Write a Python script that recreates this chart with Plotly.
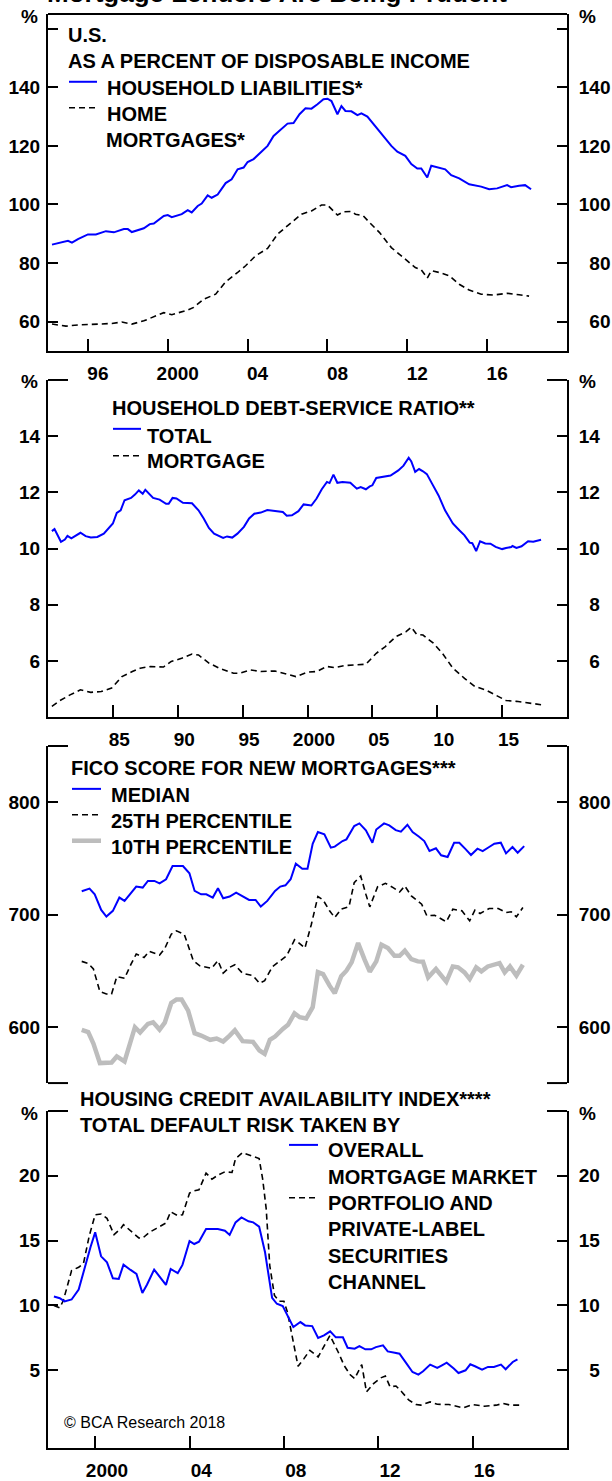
import plotly.graph_objects as go

W, H = 612, 1481

# ---- panel 1: household liabilities / home mortgages, % of disposable income
liab_x = [1994.2, 1994.5, 1995.0, 1995.2, 1995.5, 1996.0, 1996.4, 1996.9, 1997.3, 1997.8,
          1998.0, 1998.2, 1998.8, 1999.1, 1999.3, 1999.8, 2000.0, 2000.2, 2000.7, 2001.0,
          2001.2, 2001.5, 2001.7, 2002.0, 2002.2, 2002.5, 2002.9, 2003.2, 2003.5, 2003.8,
          2004.0, 2004.3, 2005.0, 2005.3, 2005.7, 2006.0, 2006.3, 2006.6, 2006.9, 2007.2,
          2007.5, 2007.8, 2008.0, 2008.2, 2008.5, 2008.7, 2008.9, 2009.2, 2009.5, 2009.7,
          2010.0, 2010.5, 2010.8, 2011.2, 2011.5, 2011.8, 2011.9, 2012.2, 2012.5, 2012.7,
          2013.0, 2013.2, 2013.6, 2013.9, 2014.2, 2014.6, 2015.1, 2015.7, 2016.1, 2016.5,
          2017.0, 2017.2, 2017.6, 2017.9, 2018.2]
liab_y = [86.3, 86.7, 87.6, 87.0, 88.2, 89.8, 89.8, 90.9, 90.5, 91.6,
          91.6, 90.6, 91.9, 93.3, 93.5, 96.1, 96.4, 95.7, 96.7, 98.1,
          97.3, 99.5, 100.3, 103.1, 102.3, 103.4, 107.3, 108.6, 112.0, 112.6,
          114.5, 115.5, 120.0, 123.4, 125.7, 127.6, 127.8, 130.8, 132.8, 132.7,
          134.2, 135.9, 136.1, 135.3, 130.8, 133.6, 131.9, 131.8, 130.5, 131.1,
          130.0, 125.7, 123.4, 120.0, 118.0, 116.8, 116.6, 113.8, 112.3, 112.3,
          109.2, 113.2, 112.4, 112.0, 110.0, 108.9, 106.9, 106.1, 105.2, 105.5,
          106.6, 105.9, 106.4, 106.6, 105.2]
mort_x = [1994.2, 1994.9, 1995.5, 1996.3, 1997.2, 1997.7, 1998.2, 1998.8, 1999.3, 1999.8,
          2000.2, 2000.7, 2001.0, 2001.3, 2001.8, 2002.4, 2002.9, 2003.5, 2003.9, 2004.4,
          2005.0, 2005.5, 2006.0, 2006.7, 2007.2, 2007.7, 2008.0, 2008.2, 2008.5, 2008.8,
          2009.2, 2009.4, 2009.8, 2010.1, 2010.6, 2011.2, 2011.6, 2012.0, 2012.4, 2012.7,
          2013.0, 2013.2, 2013.6, 2014.1, 2014.6, 2015.1, 2015.7, 2016.3, 2017.0, 2017.6,
          2018.1]
mort_y = [59.2, 58.5, 58.9, 59.1, 59.4, 59.9, 59.2, 60.3, 61.8, 63.1,
          62.4, 63.4, 64.0, 64.9, 67.7, 69.4, 73.6, 76.8, 79.1, 82.5,
          85.0, 89.9, 92.7, 96.7, 97.8, 99.8, 99.8, 98.4, 96.4, 97.5,
          97.6, 96.7, 96.1, 93.9, 90.5, 85.3, 83.1, 80.8, 78.5, 77.7,
          74.9, 77.4, 76.8, 75.7, 72.8, 70.8, 69.4, 69.1, 69.7, 69.2,
          68.75]

# ---- panel 2: household debt-service ratio
dsr_x = [1980.3, 1980.5, 1981.0, 1981.3, 1981.5, 1981.8, 1982.5, 1982.9, 1983.3, 1983.8,
         1984.3, 1985.0, 1985.3, 1985.6, 1985.9, 1986.4, 1986.7, 1987.0, 1987.3, 1987.5,
         1988.1, 1988.6, 1989.1, 1989.3, 1989.6, 1989.9, 1990.4, 1991.1, 1991.6, 1992.0,
         1992.4, 1992.8, 1993.5, 1993.8, 1994.2, 1994.6, 1995.1, 1995.5, 1995.9, 1996.4,
         1996.9, 1997.7, 1998.1, 1998.4, 1998.8, 1999.3, 1999.7, 2000.3, 2000.7, 2001.1,
         2001.5, 2001.7, 2002.0, 2002.3, 2002.7, 2003.3, 2003.8, 2004.1, 2004.5, 2004.8,
         2005.0, 2005.3, 2006.0, 2006.4, 2007.0, 2007.4, 2007.8, 2008.0, 2008.3, 2008.6,
         2008.9, 2009.2, 2009.6, 2010.1, 2010.6, 2011.2, 2011.7, 2012.1, 2012.5, 2012.7,
         2013.0, 2013.3, 2013.7, 2014.1, 2014.5, 2015.0, 2015.3, 2015.7, 2015.8, 2016.1,
         2016.5, 2017.0, 2017.4, 2018.0]
dsr_y = [10.62, 10.69, 10.24, 10.32, 10.45, 10.36, 10.56, 10.44, 10.39, 10.41,
         10.53, 10.89, 11.27, 11.36, 11.72, 11.80, 11.92, 12.07, 11.95, 12.09,
         11.80, 11.74, 11.59, 11.59, 11.80, 11.78, 11.63, 11.61, 11.36, 11.07,
         10.73, 10.53, 10.38, 10.43, 10.39, 10.53, 10.77, 11.07, 11.24, 11.28,
         11.37, 11.34, 11.30, 11.17, 11.18, 11.33, 11.57, 11.53, 11.78, 12.11,
         12.37, 12.33, 12.63, 12.34, 12.37, 12.34, 12.13, 12.19, 12.11, 12.21,
         12.25, 12.51, 12.58, 12.60, 12.78, 12.95, 13.23, 13.10, 12.73, 12.83,
         12.75, 12.65, 12.31, 11.89, 11.36, 10.89, 10.65, 10.47, 10.21, 10.19,
         9.91, 10.26, 10.18, 10.17, 10.06, 9.98, 10.02, 10.05, 10.09, 10.02,
         10.08, 10.26, 10.24, 10.31]
mdsr_x = [1980.3, 1980.9, 1981.7, 1982.5, 1983.3, 1984.1, 1984.9, 1985.7, 1986.5, 1987.1,
          1987.9, 1988.9, 1989.5, 1990.3, 1991.1, 1991.6, 1992.4, 1993.2, 1994.3, 1994.8,
          1995.6, 1996.4, 1997.5, 1998.3, 1999.1, 2000.0, 2000.7, 2001.5, 2002.1, 2002.8,
          2003.6, 2004.5, 2005.3, 2006.0, 2006.8, 2007.6, 2008.0, 2008.4, 2008.9, 2009.7,
          2010.4, 2011.2, 2012.1, 2012.9, 2013.7, 2014.5, 2015.3, 2016.1, 2016.9, 2018.0]
mdsr_y = [4.38, 4.58, 4.79, 4.97, 4.88, 4.91, 5.03, 5.44, 5.62, 5.74,
          5.80, 5.78, 5.98, 6.09, 6.24, 6.21, 5.92, 5.74, 5.56, 5.56,
          5.68, 5.62, 5.64, 5.53, 5.44, 5.60, 5.62, 5.80, 5.76, 5.83,
          5.86, 5.88, 6.27, 6.51, 6.86, 7.04, 7.20, 6.95, 6.92, 6.63,
          6.27, 5.74, 5.38, 5.09, 4.97, 4.79, 4.59, 4.56, 4.52, 4.44]

# ---- panel 3: FICO score for new mortgages
med_x = [1982.6, 1983.2, 1983.6, 1984.1, 1984.5, 1985.0, 1985.5, 1985.9, 1986.8, 1987.3,
         1987.7, 1988.2, 1988.6, 1989.1, 1989.6, 1990.4, 1990.9, 1991.3, 1991.8, 1992.2,
         1992.7, 1993.1, 1993.5, 1994.0, 1994.5, 1994.9, 1995.5, 1996.0, 1996.4, 1996.9,
         1997.5, 1997.9, 1998.3, 1998.7, 1999.1, 1999.6, 2000.0, 2000.4, 2000.8, 2001.3,
         2001.8, 2002.1, 2002.7, 2003.0, 2003.6, 2004.0, 2004.5, 2005.0, 2005.3, 2005.9,
         2006.3, 2006.8, 2007.2, 2007.7, 2008.1, 2008.6, 2009.0, 2009.4, 2009.9, 2010.3,
         2010.8, 2011.3, 2011.7, 2012.2, 2012.6, 2013.1, 2013.5, 2014.0, 2014.4, 2014.9,
         2015.3, 2015.8, 2016.2, 2016.7]
med_y = [720.7, 723.1, 718.0, 704.1, 698.2, 703.3, 715.1, 712.1, 724.9, 724.0,
         729.9, 729.9, 727.8, 731.4, 743.2, 743.2, 736.7, 721.0, 718.0, 718.0,
         715.1, 723.4, 714.5, 716.0, 719.5, 717.2, 713.0, 713.0, 707.1, 712.1,
         721.0, 724.9, 726.0, 731.4, 745.3, 740.8, 740.8, 763.0, 773.4, 771.3,
         759.5, 760.4, 765.4, 766.9, 778.7, 781.1, 774.9, 763.9, 775.7, 781.1,
         779.3, 775.1, 773.7, 779.9, 773.4, 769.2, 765.4, 756.5, 758.9, 752.7,
         751.2, 763.9, 763.9, 758.0, 753.0, 758.6, 756.5, 760.1, 763.0, 763.9,
         754.4, 760.1, 755.0, 760.9]
p25_x = [1982.6, 1983.1, 1983.5, 1984.0, 1984.5, 1984.9, 1985.3, 1985.9, 1986.4, 1986.8,
         1987.4, 1987.8, 1988.6, 1989.0, 1989.5, 1989.9, 1990.5, 1991.2, 1991.7, 1992.6,
         1993.1, 1993.5, 1994.0, 1994.4, 1995.0, 1995.8, 1996.3, 1996.7, 1997.3, 1997.9,
         1998.4, 1999.0, 1999.3, 1999.8, 2000.3, 2000.8, 2001.2, 2001.7, 2002.1, 2002.6,
         2003.2, 2003.6, 2004.1, 2004.5, 2004.8, 2005.4, 2006.0, 2006.6, 2007.1, 2007.5,
         2008.0, 2008.8, 2009.2, 2009.8, 2010.7, 2011.2, 2011.9, 2012.5, 2012.9, 2013.3,
         2014.0, 2014.7, 2015.3, 2015.7, 2016.1, 2016.6]
p25_y = [658.3, 656.5, 651.5, 631.4, 629.3, 629.3, 644.7, 643.2, 655.9, 664.8,
         661.8, 667.2, 663.9, 669.8, 682.5, 685.5, 682.5, 658.9, 654.4, 652.1,
         658.9, 647.9, 653.0, 655.3, 647.6, 645.6, 638.8, 641.1, 653.6, 658.9,
         663.3, 677.5, 675.1, 670.1, 691.4, 716.0, 713.0, 703.3, 697.3, 704.7,
         707.1, 728.4, 734.3, 718.0, 706.8, 724.6, 727.8, 724.0, 720.1, 725.4,
         716.6, 709.2, 698.8, 699.4, 693.5, 704.7, 703.3, 694.4, 703.8, 700.9,
         705.3, 705.3, 701.8, 702.4, 697.9, 706.2]
p10_x = [1982.6, 1983.1, 1983.5, 1984.0, 1984.9, 1985.3, 1985.9, 1986.7, 1987.1, 1987.7,
         1988.1, 1988.6, 1989.0, 1989.5, 1989.9, 1990.3, 1990.8, 1991.3, 1991.8, 1992.5,
         1993.0, 1993.5, 1994.0, 1994.4, 1995.0, 1995.8, 1996.3, 1996.7, 1997.1, 1997.5,
         1998.1, 1998.5, 1999.0, 1999.4, 1999.9, 2000.4, 2000.8, 2001.2, 2001.7, 2002.1,
         2002.6, 2003.0, 2003.4, 2003.9, 2004.4, 2004.8, 2005.3, 2005.7, 2006.2, 2006.7,
         2007.1, 2007.5, 2008.0, 2008.5, 2008.9, 2009.3, 2009.9, 2010.3, 2010.7, 2011.2,
         2011.6, 2012.1, 2012.5, 2013.0, 2013.4, 2013.9, 2014.3, 2014.8, 2015.2, 2015.6,
         2016.1, 2016.6]
p10_y = [597.3, 595.3, 585.1, 567.8, 568.3, 573.7, 569.2, 599.7, 595.0, 602.7,
         604.1, 597.6, 603.8, 621.3, 624.3, 624.3, 614.5, 594.4, 592.3, 588.5,
         589.6, 587.0, 592.3, 597.0, 587.3, 586.7, 579.0, 576.0, 588.5, 591.4,
         598.2, 601.8, 612.1, 608.6, 607.4, 617.5, 648.8, 647.0, 636.7, 629.9,
         645.0, 650.0, 657.4, 674.6, 659.8, 649.1, 658.3, 673.1, 670.1, 663.3,
         663.3, 667.8, 660.4, 658.3, 658.0, 644.1, 651.5, 645.6, 640.2, 653.8,
         653.0, 648.5, 642.6, 653.0, 649.4, 653.8, 655.0, 656.8, 648.5, 653.8,
         645.6, 655.3]

# ---- panel 4: housing credit availability index
hcai_x = [1998.25, 1998.5, 1998.7, 1999.0, 1999.3, 1999.5, 1999.8, 2000.0, 2000.25, 2000.5,
          2000.75, 2001.0, 2001.2, 2001.5, 2001.75, 2002.0, 2002.2, 2002.5, 2002.75, 2003.0,
          2003.2, 2003.5, 2003.7, 2004.0, 2004.2, 2004.4, 2004.7, 2005.2, 2005.5, 2005.7,
          2005.95, 2006.2, 2006.5, 2006.7, 2006.95, 2007.2, 2007.5, 2007.7, 2007.95, 2008.2,
          2008.4, 2008.7, 2008.9, 2009.2, 2009.45, 2009.7, 2009.96, 2010.2, 2010.5, 2010.7,
          2011.0, 2011.2, 2011.45, 2011.7, 2011.9, 2012.2, 2012.4, 2012.7, 2012.9, 2013.2,
          2013.45, 2013.7, 2013.9, 2014.2, 2014.5, 2014.7, 2014.9, 2015.2, 2015.4, 2015.7,
          2015.9, 2016.1, 2016.4, 2016.65, 2016.9, 2017.2, 2017.4, 2017.7, 2017.9]
hcai_y = [10.69, 10.56, 10.31, 10.46, 11.23, 12.56, 14.49, 15.64, 13.79, 13.33,
          12.10, 12.05, 13.15, 12.74, 12.44, 10.97, 11.62, 12.77, 12.13, 11.59,
          12.82, 12.49, 13.13, 14.97, 14.74, 14.92, 15.90, 15.90, 15.77, 15.44,
          16.41, 16.79, 16.49, 16.41, 16.08, 14.10, 10.59, 10.13, 9.95, 9.10,
          8.33, 8.72, 8.46, 8.41, 7.49, 7.69, 8.00, 7.54, 7.54, 6.74,
          6.67, 6.87, 6.62, 6.62, 6.79, 6.92, 6.46, 6.36, 6.28, 5.51,
          4.87, 4.67, 4.92, 5.44, 5.18, 5.38, 5.59, 5.13, 4.79, 5.00,
          5.46, 5.31, 5.05, 5.26, 5.26, 5.44, 5.08, 5.64, 5.85]
pls_x = [1998.25, 1998.5, 1998.65, 1999.0, 1999.3, 1999.5, 1999.75, 2000.0, 2000.25, 2000.5,
         2000.8, 2001.1, 2001.2, 2001.55, 2001.85, 2002.0, 2002.3, 2002.6, 2003.0, 2003.2,
         2003.5, 2003.7, 2004.0, 2004.2, 2004.4, 2004.7, 2004.95, 2005.2, 2005.5, 2005.8,
         2005.95, 2006.25, 2006.6, 2006.95, 2007.1, 2007.25, 2007.4, 2007.6, 2007.8, 2008.0,
         2008.15, 2008.4, 2008.6, 2008.85, 2009.1, 2009.45, 2009.7, 2009.95, 2010.3, 2010.55,
         2010.8, 2011.0, 2011.3, 2011.5, 2011.8, 2012.1, 2012.3, 2012.5, 2012.75, 2013.0,
         2013.3, 2013.6, 2013.8, 2014.2, 2014.5, 2015.0, 2015.6, 2016.0, 2016.5, 2017.0,
         2017.3, 2017.6, 2018.0]
pls_y = [10.0, 9.82, 10.38, 12.69, 12.95, 13.21, 15.38, 17.0, 17.05, 16.72,
         15.46, 15.97, 16.23, 15.64, 15.21, 15.18, 15.64, 15.95, 16.36, 17.23,
         16.92, 17.0, 18.67, 18.85, 18.92, 20.21, 19.74, 20.05, 20.31, 20.26,
         21.33, 21.79, 21.54, 21.33, 19.74, 17.44, 13.08, 10.77, 10.33, 10.33,
         9.49, 7.18, 5.31, 5.90, 6.54, 6.03, 6.87, 7.69, 6.41, 5.38,
         4.67, 4.36, 5.44, 3.33, 3.97, 4.41, 4.56, 3.72, 3.79, 3.33,
         2.69, 2.36, 2.31, 2.56, 2.38, 2.36, 2.10, 2.36, 2.23, 2.31,
         2.44, 2.31, 2.31]

# x axes: tick marks sit on the year, labels are centred on the middle of that year
p1_xticks = [1996, 2000, 2004, 2008, 2012, 2016]
p1_xlabels = ["96", "2000", "04", "08", "12", "16"]
p2_xticks = [1985, 1990, 1995, 2000, 2005, 2010, 2015]
p2_xlabels = ["85", "90", "95", "2000", "05", "10", "15"]
p4_xticks = [2000, 2004, 2008, 2012, 2016]
p4_xlabels = ["2000", "04", "08", "12", "16"]

# y axes
p1_yticks = [60, 80, 100, 120, 140, 160]
p1_ylabels = ["60", "80", "100", "120", "140", ""]
p2_yticks = [6, 8, 10, 12, 14]
p2_ylabels = ["6", "8", "10", "12", "14"]
p3_yticks = [600, 700, 800]
p3_ylabels = ["600", "700", "800"]
p4_yticks = [5, 10, 15, 20]
p4_ylabels = ["5", "10", "15", "20"]

BLUE = "#0000FF"
GREY = "#BDBDBD"
FONT = "Liberation Sans, Arial, sans-serif"
FIG_SP = "\u2007"  # figure space, digit wide, used to right-align the right-hand labels


def px(x):
    return x / W


def py(y):
    return 1 - y / H


def rpad(labels):
    n = max(len(s) for s in labels)
    return [FIG_SP * (n - len(s)) + s if s else s for s in labels]


# panel frames in page pixels: (top, bottom)
frames = [(14, 352), (381, 719), (748, 1086), (1114, 1452)]
xdom = [px(48), px(567)]

fig = go.Figure()

dash = "6px,4px"
series = [
    (liab_x, liab_y, 1, dict(color=BLUE, width=2)),
    (mort_x, mort_y, 1, dict(color="black", width=1.6, dash=dash)),
    (dsr_x, dsr_y, 2, dict(color=BLUE, width=2)),
    (mdsr_x, mdsr_y, 2, dict(color="black", width=1.6, dash=dash)),
    (p10_x, p10_y, 3, dict(color=GREY, width=4.5)),
    (p25_x, p25_y, 3, dict(color="black", width=1.6, dash=dash)),
    (med_x, med_y, 3, dict(color=BLUE, width=2)),
    (pls_x, pls_y, 4, dict(color="black", width=1.6, dash=dash)),
    (hcai_x, hcai_y, 4, dict(color=BLUE, width=2)),
]
for xs, ys, n, ln in series:
    sfx = "" if n == 1 else str(n)
    fig.add_trace(go.Scatter(x=xs, y=ys, mode="lines", line=ln, hoverinfo="skip",
                             xaxis="x" + sfx, yaxis="y" + sfx))

# the right-hand axes only show up when a trace uses them: reuse each panel's
# first series there, fully transparent
for n, (xs, ys) in enumerate([(liab_x, liab_y), (dsr_x, dsr_y), (med_x, med_y), (hcai_x, hcai_y)], 1):
    sfx = "" if n == 1 else str(n)
    fig.add_trace(go.Scatter(x=xs, y=ys, mode="lines", opacity=0, hoverinfo="skip",
                             xaxis="x" + sfx, yaxis="y" + str(n + 4)))

tickfont = dict(family=FONT, size=19, color="black", weight="bold")
axis_common = dict(showgrid=False, zeroline=False, tickcolor="black", tickwidth=2,
                   linecolor="black", linewidth=2, tickfont=tickfont)

xspecs = [
    dict(range=[1994, 2020], ticks=p1_xticks, labels=p1_xlabels, showline=True),
    dict(range=[1980, 2020], ticks=p2_xticks, labels=p2_xlabels, showline=True),
    dict(range=[1980, 2020], ticks=[], labels=[], showline=False),
    dict(range=[1998, 2020], ticks=p4_xticks, labels=p4_xlabels, showline=True),
]
yspecs = [
    dict(range=[50, 165], tickvals=p1_yticks, ticktext=p1_ylabels),
    dict(range=[4, 16], tickvals=p2_yticks, ticktext=p2_ylabels),
    dict(range=[550, 850], tickvals=p3_yticks, ticktext=p3_ylabels),
    dict(range=[-1, 25], tickvals=p4_yticks, ticktext=p4_ylabels),
]

layout = dict(
    width=W, height=H, margin=dict(l=0, r=0, t=0, b=0),
    paper_bgcolor="white", plot_bgcolor="white", showlegend=False,
)
for i, ((top, bot), xs, ys) in enumerate(zip(frames, xspecs, yspecs)):
    n = i + 1
    sfx = "" if n == 1 else str(n)
    ydom = [py(bot), py(top)]
    layout["xaxis" + sfx] = dict(
        axis_common, domain=xdom, anchor="y" + sfx, range=xs["range"], showline=xs["showline"],
        tickvals=[t + 0.5 for t in xs["ticks"]], ticktext=xs["labels"], ticks="",
        ticklabelstandoff=4,
        minor=dict(tickvals=xs["ticks"], ticks="inside", ticklen=12, tickwidth=2, tickcolor="black",
                   showgrid=False),
    )
    layout["yaxis" + sfx] = dict(axis_common, domain=ydom, anchor="x" + sfx, side="left",
                                 showline=True, ticks="inside", ticklen=10, ticklabelstandoff=2,
                                 range=ys["range"], tickvals=ys["tickvals"], ticktext=ys["ticktext"])
    layout["yaxis" + str(n + 4)] = dict(axis_common, domain=ydom, anchor="x" + sfx, side="right",
                                        overlaying="y" + sfx, showline=True, ticks="inside",
                                        ticklen=10, ticklabelstandoff=6, range=ys["range"],
                                        tickvals=ys["tickvals"], ticktext=rpad(ys["ticktext"]))

fig.update_layout(**layout)

# frame tops / brackets
shapes = []
bracket = 20 / 519
line = dict(color="black", width=2)
for i in range(4):
    sfx = "" if i == 0 else str(i + 1)
    xr, yr = "x" + sfx + " domain", "y" + sfx + " domain"
    if i == 0:
        shapes.append(dict(type="line", xref=xr, yref=yr, x0=0, x1=1, y0=1, y1=1, line=line))
    else:
        shapes.append(dict(type="line", xref=xr, yref=yr, x0=0, x1=bracket, y0=1, y1=1, line=line))
        shapes.append(dict(type="line", xref=xr, yref=yr, x0=1 - bracket, x1=1, y0=1, y1=1, line=line))
    if i == 2:
        shapes.append(dict(type="line", xref=xr, yref=yr, x0=0, x1=bracket, y0=0, y1=0, line=line))
        shapes.append(dict(type="line", xref=xr, yref=yr, x0=1 - bracket, x1=1, y0=0, y1=0, line=line))


def swatch(x0, x1, y, color, width, dash_style=None):
    d = dict(color=color, width=width)
    if dash_style:
        d["dash"] = dash_style
    shapes.append(dict(type="line", xref="paper", yref="paper",
                       x0=px(x0), x1=px(x1), y0=py(y), y1=py(y), line=d))


swatch(69, 97, 82, BLUE, 2)
swatch(69, 97, 108, "black", 1.6, dash)
swatch(113, 141, 430, BLUE, 2)
swatch(113, 141, 457, "black", 1.6, dash)
swatch(72, 101, 791, BLUE, 2)
swatch(72, 101, 817, "black", 1.6, dash)
swatch(72, 101, 843, GREY, 4.5)
swatch(289, 318, 1148, BLUE, 2)
swatch(289, 318, 1201, "black", 1.6, dash)
fig.update_layout(shapes=shapes)

annots = []


def label(text, x, y, size=20, bold=True, xanchor="left", yanchor="middle"):
    annots.append(dict(text=text, x=px(x), y=py(y), xref="paper", yref="paper",
                       xanchor=xanchor, yanchor=yanchor, showarrow=False,
                       font=dict(family=FONT, size=size, color="black",
                                 weight="bold" if bold else "normal")))


# the title sits mostly above the top edge, only its lower half shows
label("Mortgage Lenders Are Being Prudent", 277, 10, size=26, xanchor="center", yanchor="bottom")

for y in (17, 383, 1117):
    label("%", 29, y, size=19, xanchor="center")
    label("%", 587, y, size=19, xanchor="center")

label("U.S.", 66, 35)
label("AS A PERCENT OF DISPOSABLE INCOME", 66, 61)
label("HOUSEHOLD LIABILITIES*", 105, 88)
label("HOME", 105, 114)
label("MORTGAGES*", 104, 140)

label("HOUSEHOLD DEBT-SERVICE RATIO**", 110, 409)
label("TOTAL", 145, 437)
label("MORTGAGE", 145, 462)

label("FICO SCORE FOR NEW MORTGAGES***", 69, 770)
label("MEDIAN", 109, 797)
label("25TH PERCENTILE", 109, 823)
label("10TH PERCENTILE", 109, 849)

label("HOUSING CREDIT AVAILABILITY INDEX****", 78, 1102)
label("TOTAL DEFAULT RISK TAKEN BY", 78, 1128)
label("OVERALL", 326, 1153)
label("MORTGAGE MARKET", 326, 1180)
label("PORTFOLIO AND", 326, 1206)
label("PRIVATE-LABEL", 326, 1232)
label("SECURITIES", 326, 1259)
label("CHANNEL", 326, 1285)

label("© BCA Research 2018", 62, 1426, size=16, bold=False)

fig.update_layout(annotations=annots)

# drop the browser's default 8px body margin so the figure starts at the page corner
fig.write_html("out.html", config={"displayModeBar": False},
               post_script="document.body.style.margin = '0';")
